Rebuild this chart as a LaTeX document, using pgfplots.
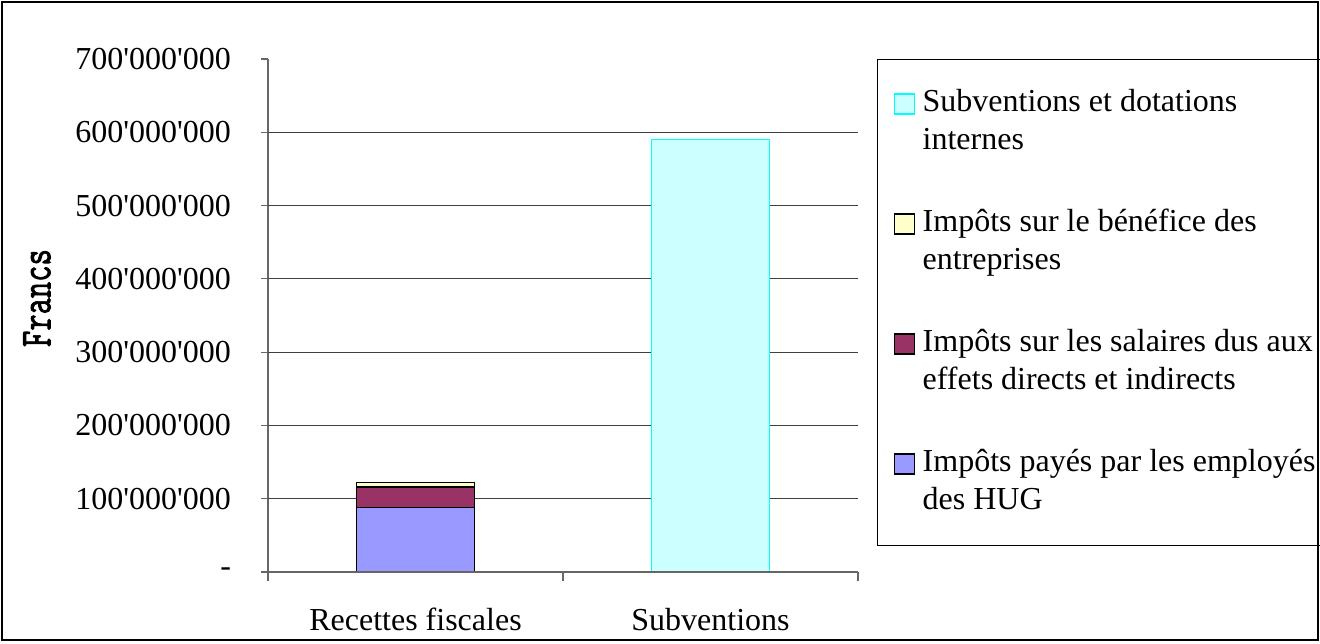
\documentclass[border=0pt]{standalone}
\usepackage{pgfplots}
\pgfplotsset{compat=1.18}
\usepackage{fontspec}
\setmainfont{Liberation Serif}
\newfontfamily\francsfont[FakeBold=2]{Latin Modern Mono}
\usepackage{graphicx}

\definecolor{hugblue}{RGB}{153,153,255}
\definecolor{hugred}{RGB}{153,51,102}
\definecolor{hugyellow}{RGB}{255,255,204}
\definecolor{hugcyanfill}{RGB}{204,255,255}
\definecolor{hugcyan}{RGB}{0,255,255}

\newcommand{\q}{\textquotesingle}
\newcommand{\lh}{\rule{0pt}{12pt}}
\newcommand{\ld}{\rule[-4pt]{0pt}{4pt}}

\pgfplotsset{
  base/.style={
    scale only axis, width=295pt, height=256.5pt,
    xmin=-0.5, xmax=1.5, ymin=0, ymax=700000000,
    bar width=59pt,
  },
}

\begin{document}
\begin{tikzpicture}
\begin{axis}[base, ybar stacked,
  axis lines=left,
  axis line style={-, draw=black!60, line width=0.6pt},
  tick align=outside,
  major tick length=3.5pt, minor tick length=4.5pt,
  tick style={draw=black!60, line width=0.6pt},
  xtick={0,1}, xticklabels={Recettes fiscales, Subventions},
  major x tick style={draw=none},
  minor xtick={-0.5,0.5,1.5},
  ytick={0,100000000,200000000,300000000,400000000,500000000,600000000,700000000},
  yticklabels={-, 100\q000\q000, 200\q000\q000, 300\q000\q000, 400\q000\q000, 500\q000\q000, 600\q000\q000, 700\q000\q000},
  scaled y ticks=false,
  extra y ticks={100000000,200000000,300000000,400000000,500000000,600000000},
  extra y tick labels={},
  extra y tick style={grid=major, major tick length=0pt, major grid style={draw=black!75, line width=0.5pt}},
  tick label style={font=\fontsize{16}{19.2}\selectfont},
  yticklabel style={xshift=-11.5pt},
  xticklabel style={yshift=-11pt},
  ylabel={\scalebox{0.72}[1]{\fontsize{22}{24}\selectfont\francsfont Francs}},
  ylabel style={at={(axis description cs:-0.3915,0.534)}, anchor=center},
  every axis plot post/.append style={
    legend image code/.code={\draw[##1] (0pt,4.25pt) rectangle (10pt,14.25pt);}},
  reverse legend,
  legend cell align=left,
  legend style={at={(axis description cs:1.0322,1)}, anchor=north west,
    draw=black, line width=0.5pt, fill=white,
    inner xsep=8pt, inner ysep=14pt, row sep=24.8pt, column sep=3.8pt,
    font=\fontsize{16}{19.2}\selectfont,
    nodes={inner sep=0pt, text depth=, align=left}},
]
\addplot[fill=hugblue, draw=black, line width=0.8pt] coordinates {(0,88000000)};
\addlegendentry{\lh Impôts payés par les employés\\des HUG\ld}
\addplot[fill=hugred, draw=black, line width=0.8pt] coordinates {(0,27600000)};
\addlegendentry{\lh Impôts sur les salaires dus aux\\effets directs et indirects\ld}
\addplot[fill=hugyellow, draw=black, line width=0.8pt] coordinates {(0,6800000)};
\addlegendentry{\lh Impôts sur le bénéfice des\\entreprises\ld}
\addlegendimage{fill=hugcyanfill, draw=hugcyan, line width=0.8pt}
\addlegendentry{\lh Subventions et dotations\\internes\ld}
\end{axis}
\begin{axis}[base, ybar, axis on top,
  axis x line=bottom, axis y line=none,
  axis line style={-, draw=black!60, line width=0.6pt},
  xtick=\empty, ytick=\empty]
\addplot[fill=hugcyanfill, draw=hugcyan, line width=0.8pt] coordinates {(1,590000000)};
\end{axis}
\draw[black, line width=0.6pt] (-133pt,-34pt) rectangle (525pt,285pt);
\pgfresetboundingbox
\path (-134pt,-35.5pt) rectangle (526pt,286pt);
\end{tikzpicture}
\end{document}
